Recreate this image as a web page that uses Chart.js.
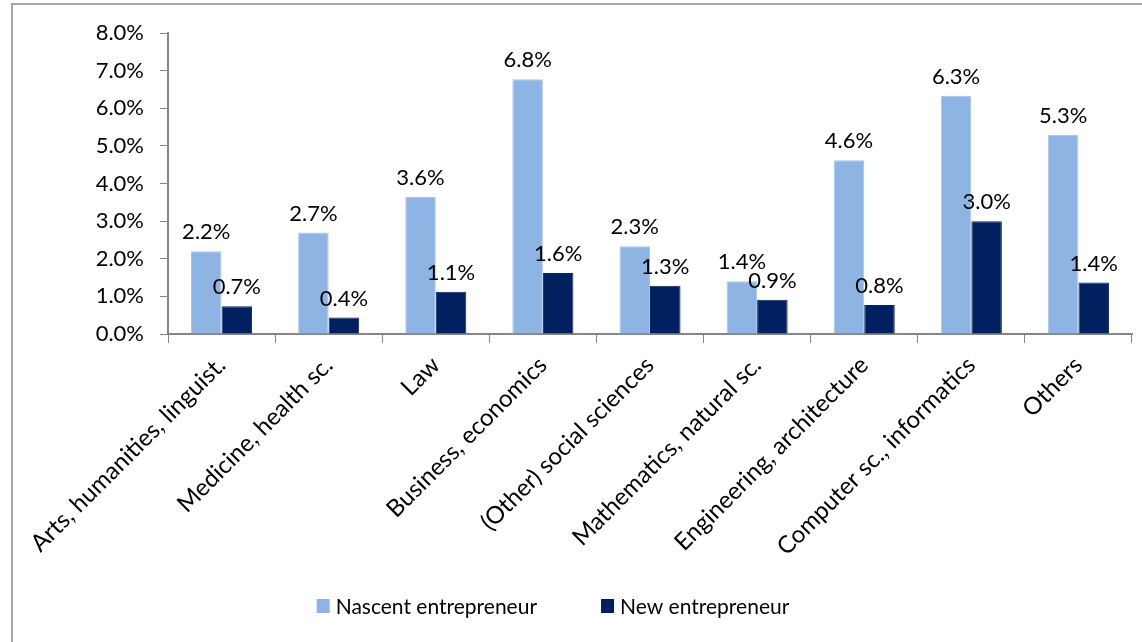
<!DOCTYPE html>
<html>
<head>
<meta charset="utf-8">
<script src="https://cdn.jsdelivr.net/npm/chart.js@4"></script>
<style>
html,body{margin:0;padding:0;background:#fff;}
#wrap{width:1142px;height:642px;position:relative;}
</style>
</head>
<body>
<div id="wrap"><canvas id="c" width="1142" height="642"></canvas></div>
<script>
const categories = [
  "Arts, humanities, linguist.",
  "Medicine, health sc.",
  "Law",
  "Business, economics",
  "(Other) social sciences",
  "Mathematics, natural sc.",
  "Engineering, architecture",
  "Computer sc., informatics",
  "Others"
];
const nascent = [2.2, 2.7, 3.64, 6.77, 2.33, 1.4, 4.62, 6.33, 5.29];
const newEnt  = [0.74, 0.44, 1.12, 1.62, 1.28, 0.91, 0.77, 3.0, 1.37];
const seriesNames = ["Nascent entrepreneur", "New entrepreneur"];
const yTicks = [0, 1, 2, 3, 4, 5, 6, 7, 8];

const FONT = "Lato, 'Open Sans', sans-serif";
const TXT = '#000000';
const AXIS = '#868686';

const frame = {
  id: 'frame',
  afterDraw(chart) {
    const ctx = chart.ctx;
    ctx.save();
    ctx.strokeStyle = '#A6A6A6';
    ctx.lineWidth = 2;
    ctx.strokeRect(12, 4, chart.width + 20, chart.height + 20);
    ctx.restore();
  }
};

const dataLabels = {
  id: 'dataLabels',
  afterDatasetsDraw(chart) {
    const ctx = chart.ctx;
    ctx.save();
    ctx.font = '22px ' + FONT;
    ctx.fillStyle = TXT;
    ctx.textAlign = 'center';
    ctx.textBaseline = 'bottom';
    chart.data.datasets.forEach((ds, di) => {
      const meta = chart.getDatasetMeta(di);
      meta.data.forEach((bar, i) => {
        const v = ds.data[i];
        ctx.fillText(v.toFixed(1) + '%', bar.x, bar.y - 8);
      });
    });
    ctx.restore();
  }
};

const customLegend = {
  id: 'customLegend',
  afterDraw(chart) {
    const ctx = chart.ctx;
    ctx.save();
    ctx.font = '21px ' + FONT;
    ctx.textBaseline = 'middle';
    ctx.textAlign = 'left';
    const box = 13, gap = 6, itemGap = 64;
    const items = chart.data.datasets.map(ds => ({label: ds.label, color: ds.backgroundColor, w: ctx.measureText(ds.label).width}));
    let total = 0;
    items.forEach((it, i) => { total += box + gap + it.w + (i ? itemGap : 0); });
    const cx = 553, cy = 606;
    let x = cx - total / 2;
    items.forEach((it, i) => {
      if (i) x += itemGap;
      ctx.fillStyle = it.color;
      ctx.fillRect(x, cy - 7, box, 14);
      x += box + gap;
      ctx.fillStyle = TXT;
      ctx.fillText(it.label, x, cy + 1);
      x += it.w;
    });
    ctx.restore();
  }
};

new Chart(document.getElementById('c'), {
  type: 'bar',
  data: {
    labels: categories,
    datasets: [
      {label: seriesNames[0], data: nascent, backgroundColor: '#8EB4E3', borderColor: '#A9C5EA', borderWidth: 1, categoryPercentage: 0.57, barPercentage: 1.0},
      {label: seriesNames[1], data: newEnt, backgroundColor: '#002060', borderColor: '#0A2565', borderWidth: 1, categoryPercentage: 0.57, barPercentage: 1.0}
    ]
  },
  options: {
    responsive: false,
    animation: false,
    devicePixelRatio: 1,
    layout: {padding: {top: 33, right: 10, left: 0, bottom: 0}},
    plugins: {legend: {display: false}, tooltip: {enabled: false}},
    scales: {
      x: {
        grid: {display: true, drawOnChartArea: false, drawTicks: true, tickLength: 9, color: AXIS, offset: true},
        border: {display: true, color: AXIS, width: 2},
        ticks: {color: TXT, font: {family: FONT, size: 24}, minRotation: 45, maxRotation: 45, padding: 8, autoSkip: false},
        afterFit(s) { s.height = 308; }
      },
      y: {
        min: 0, max: 8,
        afterBuildTicks(s) { s.ticks = yTicks.map(v => ({value: v})); },
        grid: {display: true, drawOnChartArea: false, drawTicks: true, tickLength: 8, color: AXIS},
        border: {display: true, color: AXIS, width: 2},
        ticks: {color: TXT, font: {family: FONT, size: 22}, padding: 16, callback: v => Number(v).toFixed(1) + '%'},
        afterFit(s) { s.width = 168; }
      }
    }
  },
  plugins: [frame, dataLabels, customLegend]
});
</script>
</body>
</html>
